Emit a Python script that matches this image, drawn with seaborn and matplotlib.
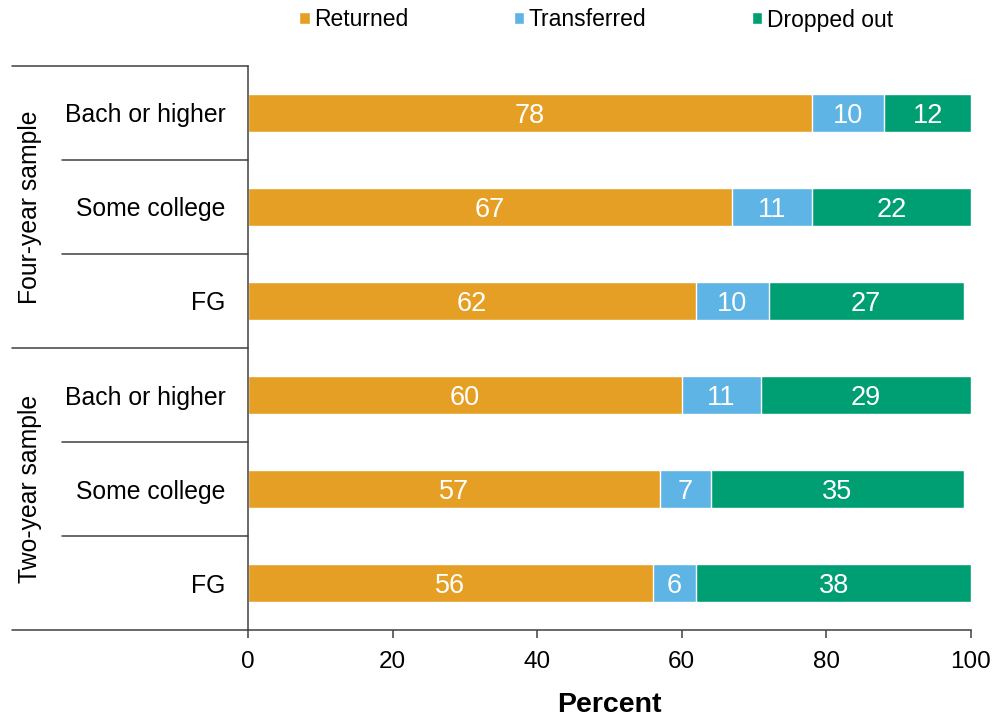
import pandas as pd
import seaborn as sns
import matplotlib.pyplot as plt
import matplotlib.transforms as mtransforms

# data, rows top to bottom
groups = ['Four-year sample', 'Two-year sample']
levels = ['Bach or higher', 'Some college', 'FG']
returned = [78, 67, 62, 60, 57, 56]
transferred = [10, 11, 10, 11, 7, 6]
dropped = [12, 22, 27, 29, 35, 38]
xticks = [0, 20, 40, 60, 80, 100]

c_ret = '#E69F25'
c_tra = '#5DB4E5'
c_drop = '#009E73'

sns.set_style('white')
plt.rcParams['font.family'] = ['Liberation Sans', 'DejaVu Sans']
plt.rcParams['text.color'] = 'black'
plt.rcParams['xtick.labelcolor'] = 'black'
plt.rcParams['ytick.labelcolor'] = 'black'

rows = [g[:3] + '-' + l for g in groups for l in levels]
df = pd.DataFrame({'row': rows, 'Returned': returned, 'Transferred': transferred, 'Dropped out': dropped})
df['cum2'] = df['Returned'] + df['Transferred']
df['cum3'] = df['cum2'] + df['Dropped out']

fig, ax = plt.subplots(figsize=(9.93, 7.17), dpi=100)
fig.subplots_adjust(left=0.2497, right=0.9778, top=0.908, bottom=0.1213)

# overlay cumulative bars -> stacked look
sns.barplot(data=df, x='cum3', y='row', orient='h', color=c_drop, width=0.4, saturation=1, label='Dropped out', ax=ax)
sns.barplot(data=df, x='cum2', y='row', orient='h', color=c_tra, width=0.4, saturation=1, label='Transferred', ax=ax)
sns.barplot(data=df, x='Returned', y='row', orient='h', color=c_ret, width=0.4, saturation=1, label='Returned', ax=ax)

# segment labels
for i in range(len(df)):
    ax.text(returned[i] / 2, i, str(returned[i]), color='white', fontsize=19.5, ha='center', va='center_baseline')
    ax.text(returned[i] + transferred[i] / 2, i, str(transferred[i]), color='white', fontsize=19.5, ha='center', va='center_baseline')
    ax.text(df['cum2'][i] + dropped[i] / 2, i, str(dropped[i]), color='white', fontsize=19.5, ha='center', va='center_baseline')

ax.set_xlim(0, 100)
ax.set_ylim(5.5, -0.5)
ax.set_xticks(xticks)
ax.set_yticks(range(6))
ax.set_yticklabels(levels * 2)
ax.tick_params(axis='y', length=0, pad=16, labelsize=17.8)
ax.tick_params(axis='x', length=6, width=1.1, color='#404040', direction='out', pad=9, labelsize=17.5, bottom=True)
ax.set_ylabel('')
ax.set_xlabel('')
fig.text(609.5 / 993, 1 - 705 / 717, 'Percent', fontsize=20.5, fontweight='heavy', ha='center', va='center')
sns.despine(ax=ax)
for s in ['left', 'bottom']:
    ax.spines[s].set_color('#404040')
    ax.spines[s].set_linewidth(1.1)

# group separators on the left
trans = mtransforms.blended_transform_factory(ax.transAxes, ax.transData)
for y in [-0.5, 2.5, 5.5]:
    ax.plot([-0.3264, 0], [y, y], color='#404040', lw=1.1, transform=trans, clip_on=False)
for y in [0.5, 1.5, 3.5, 4.5]:
    ax.plot([-0.2573, 0], [y, y], color='#404040', lw=1.1, transform=trans, clip_on=False)
ax.text(-0.3015, 1, groups[0], rotation=90, fontsize=17.8, ha='center', va='center', transform=trans)
ax.text(-0.3015, 4, groups[1], rotation=90, fontsize=17.8, ha='center', va='center', transform=trans)

h, l = ax.get_legend_handles_labels()
order = [l.index('Returned'), l.index('Transferred'), l.index('Dropped out')]
ax.legend([h[i] for i in order], [l[i] for i in order], loc='center', bbox_to_anchor=(596 / 993, 1 - 20 / 717),
          bbox_transform=fig.transFigure, ncol=3, frameon=False, fontsize=16.5, handlelength=0.45, handleheight=0.45,
          handletextpad=0.2, columnspacing=4.6)

plt.savefig('out.png', dpi=100)
